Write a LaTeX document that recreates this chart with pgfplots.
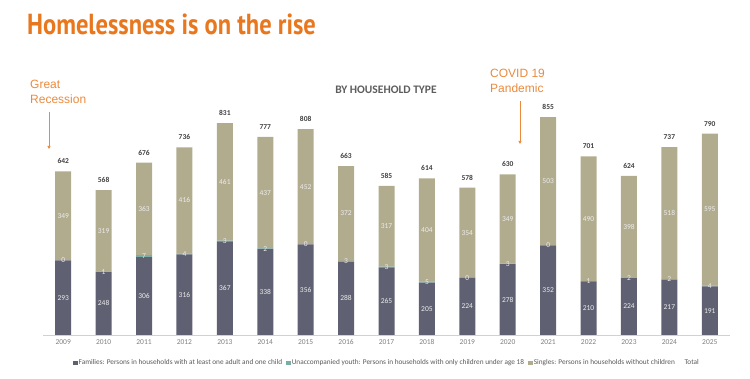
\documentclass[border=0pt]{standalone}
\usepackage{pgfplots}
\usepackage{pgfplotstable}
\pgfplotsset{compat=1.18}
\usepackage{fontspec}
\setmainfont{Carlito}
\newfontfamily\titlefont{PT Sans}
\newfontfamily\arialfont{Liberation Sans}
\usetikzlibrary{arrows.meta}
\definecolor{fam}{HTML}{5F6072}
\definecolor{youth}{HTML}{7AADA6}
\definecolor{sing}{HTML}{B1AC8E}
\definecolor{orng}{HTML}{E8771E}
\definecolor{orng2}{HTML}{EA8A3C}
\definecolor{totc}{HTML}{404040}
\definecolor{tickc}{HTML}{808080}
\definecolor{lbl}{HTML}{EDEDED}
\pgfplotstableread{
x yr F Y S T
0 2009 293 0 349 642
1 2010 248 1 319 568
2 2011 306 7 363 676
3 2012 316 4 416 736
4 2013 367 3 461 831
5 2014 338 2 437 777
6 2015 356 0 452 808
7 2016 288 3 372 663
8 2017 265 3 317 585
9 2018 205 5 404 614
10 2019 224 0 354 578
11 2020 278 3 349 630
12 2021 352 0 503 855
13 2022 210 1 490 701
14 2023 224 2 398 624
15 2024 217 2 518 737
16 2025 191 4 595 790
}\data
\begin{document}
\begin{tikzpicture}
\useasboundingbox (0,0) rectangle (750bp,379bp);
\node[anchor=west, inner sep=0pt, text=orng, font=\titlefont\bfseries\fontsize{29bp}{30bp}\selectfont] at (27bp,355bp) {\scalebox{0.845}[1]{Homelessness is on the rise}};
\node[anchor=center, inner sep=0pt, text=totc!85, font=\bfseries\fontsize{11.5bp}{12bp}\selectfont] at (386bp,289bp) {BY HOUSEHOLD TYPE};
\node[anchor=north west, inner sep=0pt, align=left, text=orng2, font=\arialfont\fontsize{12bp}{15bp}\selectfont] at (30bp,299bp) {Great\\Recession};
\node[anchor=north west, inner sep=0pt, align=left, text=orng2, font=\arialfont\fontsize{12bp}{15bp}\selectfont] at (490bp,310bp) {COVID 19\\Pandemic};
\draw[orng2, line width=0.7bp, -{Triangle[length=3bp,width=3bp]}] (49bp,267bp) -- (49bp,230bp);
\draw[orng2, line width=0.7bp, -{Triangle[length=3bp,width=3bp]}] (520bp,278bp) -- (520bp,235bp);
\begin{axis}[
  at={(43bp,44bp)}, anchor=south west,
  scale only axis, width=687bp, height=229.4bp,
  xmin=-0.5, xmax=16.5, ymin=0, ymax=900,
  ybar stacked, bar width=16bp,
  axis x line*=bottom, axis y line=none,
  x axis line style={draw=black!18, line width=0.8bp, -},
  xtick=data, xticklabels={2009,2010,2011,2012,2013,2014,2015,2016,2017,2018,2019,2020,2021,2022,2023,2024,2025},
  major tick length=0pt,
  xticklabel style={font=\fontsize{7.5bp}{8bp}\selectfont, text=tickc, yshift=-1bp},
  /pgf/number format/assume math mode=true,
  legend style={at={(axis description cs:0.5,0)}, anchor=center, yshift=-28bp, draw=none, fill=none,
    font=\fontsize{7.3bp}{8bp}\selectfont, text=black!65, legend columns=-1,
    inner sep=0pt, outer sep=0pt,
    nodes={inner sep=0.8bp},
    /tikz/column sep=0pt,
    /tikz/every even column/.style={column sep=3.5bp}},
  legend image code/.code={\fill[#1,draw=none] (0bp,-2.2bp) rectangle (4.5bp,2.3bp);},
]
\addplot[fill=fam, draw=none] table[x=x,y=F] {\data};
\addplot[fill=youth, draw=none] table[x=x,y=Y] {\data};
\addplot[fill=sing, draw=none] table[x=x,y=S] {\data};
\addlegendentry{Families: Persons in households with at least one adult and one child}
\addlegendentry{Unaccompanied youth: Persons in households with only children under age 18}
\addlegendentry{Singles: Persons in households without children}
\addlegendimage{white, fill=white, draw=white}
\addlegendentry{Total}
\end{axis}
\begin{axis}[
  at={(43bp,44bp)}, anchor=south west,
  scale only axis, width=687bp, height=229.4bp,
  xmin=-0.5, xmax=16.5, ymin=0, ymax=900,
  hide axis, clip=false,
  nodes near coords, point meta=explicit symbolic,
  nodes near coords style={anchor=center, font=\fontsize{7.5bp}{8bp}\selectfont, text=lbl},
]
\addplot[draw=none, mark=none] table[x=x, y expr=\thisrow{F}/2, meta=F] {\data};
\addplot[draw=none, mark=none] table[x=x, y expr=\thisrow{F}+\thisrow{Y}/2, meta=Y] {\data};
\addplot[draw=none, mark=none] table[x=x, y expr=\thisrow{F}+\thisrow{Y}+\thisrow{S}/2, meta=S] {\data};
\addplot[draw=none, mark=none, nodes near coords style={anchor=south, yshift=4bp, text=totc, font=\bfseries\fontsize{7.5bp}{8bp}\selectfont}] table[x=x, y=T, meta=T] {\data};
\end{axis}
\end{tikzpicture}
\end{document}
